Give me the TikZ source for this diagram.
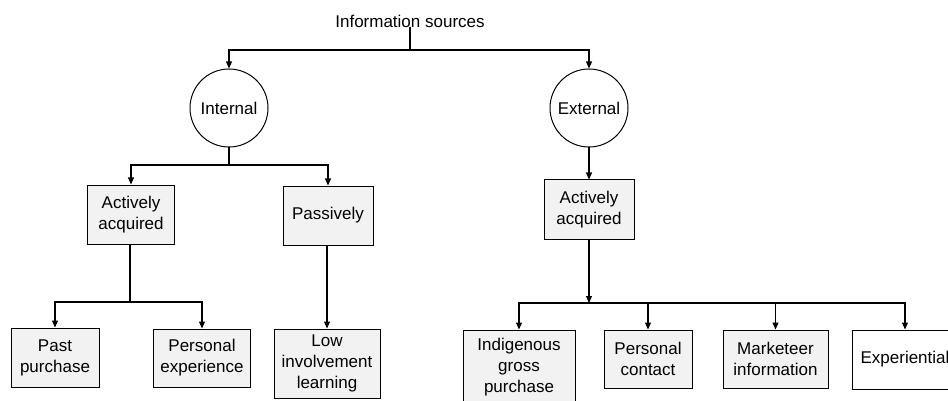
\documentclass[tikz,border=0pt]{standalone}
\usepackage{fontspec}
\setmainfont{Liberation Sans}
\usetikzlibrary{arrows.meta}
\begin{document}
\begin{tikzpicture}[x=1pt,y=-1pt,
  every node/.style={font=\fontsize{17}{21}\selectfont, align=center, inner sep=0pt},
  box/.style={draw, line width=1pt, fill=gray!10, minimum width=#1},
  circ/.style={draw, circle, line width=1pt, minimum size=78pt, fill=white},
  conn/.style={line width=1.1pt},
  arr/.style={conn, -{Triangle[length=7pt,width=6pt]}}]
\useasboundingbox (0,0) rectangle (948,401);
\clip (0,0) rectangle (948,401);
\fill[white] (0,0) rectangle (948,401);

\node (src) at (410,21) {Information sources};
\node[circ] (int) at (229,108) {Internal};
\node[circ] (ext) at (589,108) {External};

\node[box=87pt, minimum height=59pt] (aa1) at (131,214.5) {Actively\\acquired};
\node[box=90pt, minimum height=59pt] (pas) at (328,215.5) {Passively};
\node[box=88pt, minimum height=59pt] (pp) at (55,357.5) {Past\\purchase};
\node[box=97pt, minimum height=58pt] (pe) at (202,358) {Personal\\experience};
\node[box=106pt, minimum height=69pt] (low) at (327,363.5) {Low\\involvement\\learning};

\node[box=90pt, minimum height=59pt] (aa2) at (589,209.5) {Actively\\acquired};
\node[box=112pt, minimum height=75pt] (ind) at (519,367.5) {Indigenous\\gross\\purchase};
\node[box=88pt, minimum height=58pt] (pc) at (648,359) {Personal\\contact};
\node[box=105pt, minimum height=58pt] (mi) at (775.5,359) {Marketeer\\information};
\node[box=106pt, minimum height=59pt, fill=white] (exp) at (905,359.5) {Experiential};

% junctions
\coordinate (j0) at (410,50);
\coordinate (j1) at (229,165);
\coordinate (j2) at (130,302);
\coordinate (j3) at (589,303);

\draw[conn] (src.south) -- (j0);
\draw[arr] (j0) -| (int.north);
\draw[arr] (j0) -| (ext.north);

\draw[conn] (int.south) -- (j1);
\draw[arr] (j1) -| (aa1.north);
\draw[arr] (j1) -| (pas.north);

\draw[conn] (aa1.south -| j2) -- (j2);
\draw[arr] (j2) -| (pp.north);
\draw[arr] (j2) -| (pe.north);

\draw[arr] (pas.south -| low.north) -- (low.north);

\draw[arr] (ext.south) -- (aa2.north);
\draw[arr] (aa2.south) -- (j3);
\draw[arr] (j3) -| (ind.north);
\draw[arr] (j3) -| (pc.north);
\draw[arr] (j3) -| (mi.north);
\draw[arr] (j3) -| (exp.north);
\end{tikzpicture}
\end{document}
